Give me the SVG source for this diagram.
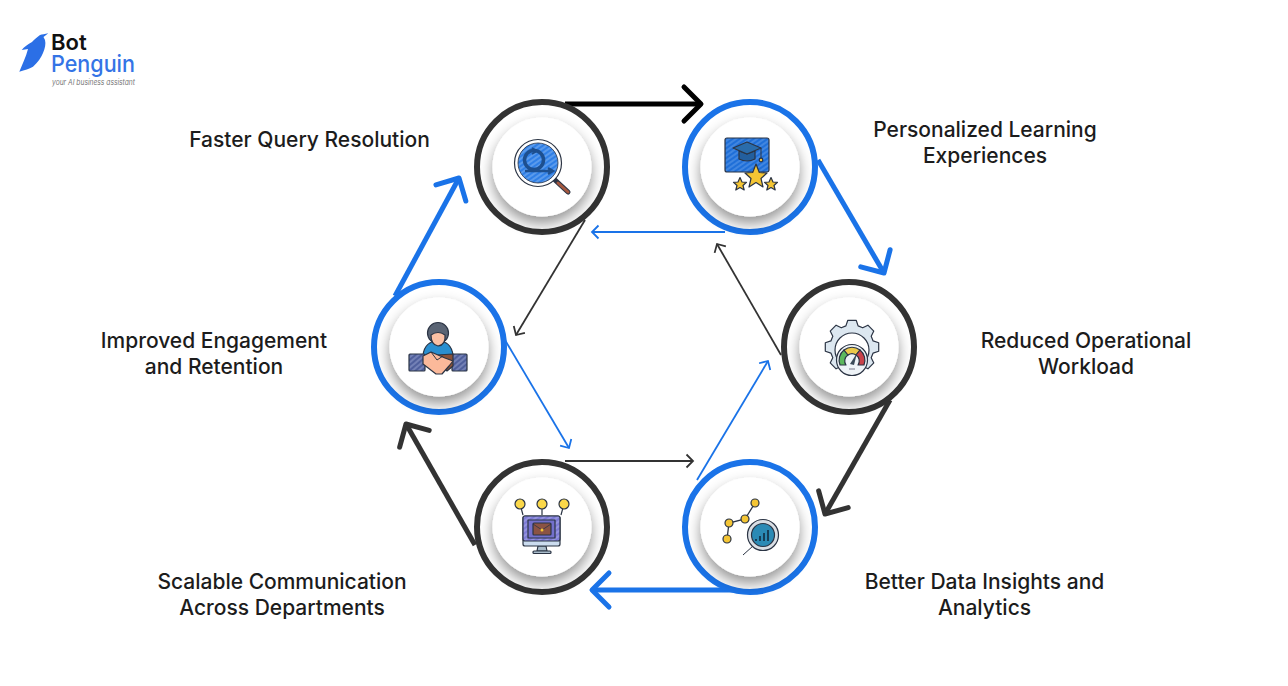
<svg xmlns="http://www.w3.org/2000/svg" width="1288" height="686" viewBox="0 0 1288 686">
<style>
text{font-family:"Inter","Liberation Sans",sans-serif}
.lbl{font-size:21px;font-weight:500;fill:#1c1c1c;text-anchor:middle}
.ring{fill:#fff;stroke-width:6}
.rb{stroke:#1a73e8}.rd{stroke:#333}
.disc{fill:#fff;filter:url(#sh)}
.thickB{fill:none;stroke:#1a73e8;stroke-width:5;marker-end:url(#hb)}
.thickD{fill:none;stroke:#333;stroke-width:5;marker-end:url(#hd)}
.thinB{fill:none;stroke:#1a73e8;stroke-width:1.8;marker-end:url(#tb)}
.thinD{fill:none;stroke:#333;stroke-width:1.8;marker-end:url(#td)}
.o{stroke:#2b3444;stroke-width:1.2;stroke-linejoin:round}
</style>
<defs>
<filter id="sh" x="-40%" y="-40%" width="180%" height="190%"><feDropShadow dx="0" dy="7" stdDeviation="7" flood-color="#000" flood-opacity=".42"/></filter>
<marker id="hb" markerUnits="userSpaceOnUse" markerWidth="40" markerHeight="44" refX="28" refY="22" orient="auto" viewBox="0 0 40 44"><path d="M11 5L28 22L11 39" fill="none" stroke="#1a73e8" stroke-width="5" stroke-linecap="round" stroke-linejoin="round"/></marker>
<marker id="hd" markerUnits="userSpaceOnUse" markerWidth="40" markerHeight="44" refX="28" refY="22" orient="auto" viewBox="0 0 40 44"><path d="M11 5L28 22L11 39" fill="none" stroke="#333" stroke-width="5" stroke-linecap="round" stroke-linejoin="round"/></marker>
<marker id="hk" markerUnits="userSpaceOnUse" markerWidth="40" markerHeight="44" refX="28" refY="22" orient="auto" viewBox="0 0 40 44"><path d="M11 5L28 22L11 39" fill="none" stroke="#000" stroke-width="5" stroke-linecap="round" stroke-linejoin="round"/></marker>
<marker id="tb" markerUnits="userSpaceOnUse" markerWidth="20" markerHeight="20" refX="14" refY="10" orient="auto" viewBox="0 0 20 20"><path d="M7.500 3.500L14 10L7.500 16.500" fill="none" stroke="#1a73e8" stroke-width="1.800"/></marker>
<marker id="td" markerUnits="userSpaceOnUse" markerWidth="20" markerHeight="20" refX="14" refY="10" orient="auto" viewBox="0 0 20 20"><path d="M7.500 3.500L14 10L7.500 16.500" fill="none" stroke="#333" stroke-width="1.800"/></marker>
<pattern id="hatch" width="4" height="4" patternUnits="userSpaceOnUse" patternTransform="rotate(-35)"><rect width="4" height="4" fill="#2f7fe6"/><path d="M0 1H4" stroke="#a9cdf7" stroke-width=".7"/></pattern>
<pattern id="hatch2" width="4" height="4" patternUnits="userSpaceOnUse" patternTransform="rotate(-35)"><rect width="4" height="4" fill="#1f6fd8"/><path d="M0 1H4" stroke="#8fbcf2" stroke-width=".6"/></pattern>
<pattern id="hatch3" width="4" height="4" patternUnits="userSpaceOnUse" patternTransform="rotate(-40)"><rect width="4" height="4" fill="#4f5f9c"/><path d="M0 1H4" stroke="#aab4dc" stroke-width=".8"/></pattern>
<pattern id="hatch4" width="4" height="4" patternUnits="userSpaceOnUse" patternTransform="rotate(-35)"><rect width="4" height="4" fill="#7d7bd6"/><path d="M0 1H4" stroke="#c2c1f0" stroke-width=".7"/></pattern>
</defs>
<rect width="1288" height="686" fill="#fff"/>

<g id="logo">
<path d="M48.300 33.300C45 34 42 34.500 40 35C37 37 34 40 32 42C28 44 24 47 21.700 50L28 49C26 57 22 65 19.300 71.700C25 70 29 69 33 66.700C38 62 41 58 43 53C45 48 46 44 45 40L43.500 37Z" fill="#2b6fe6"/>
<text x="51" y="49.500" font-size="22" font-weight="600" fill="#111">Bot</text>
<text x="51" y="71.700" font-size="23" font-weight="500" fill="#3474e6" textLength="84" lengthAdjust="spacingAndGlyphs">Penguin</text>
<text x="52" y="85" font-size="7.500" font-style="italic" fill="#777" textLength="83" lengthAdjust="spacingAndGlyphs">your AI business assistant</text>
</g>

<g id="connectors">
<path d="M565 104H701" fill="none" stroke="#000" stroke-width="5" marker-end="url(#hk)"/>
<path class="thickB" d="M818 160L884 273"/>
<path class="thickD" d="M890 400L825 514"/>
<path class="thickB" d="M735 590H592"/>
<path class="thickD" d="M475 545L406 424"/>
<path class="thickB" d="M395 296L459 178"/>
<path class="thinB" d="M725 232H592"/>
<path class="thinD" d="M585 220L516 335"/>
<path class="thinB" d="M505 340L569 448"/>
<path class="thinD" d="M565 461H693"/>
<path class="thinB" d="M697 480L768 361"/>
<path class="thinD" d="M781 355L717 244"/>
</g>

<g id="node-query" transform="translate(542 167)">
<circle class="ring rd" r="65"/><circle class="disc" r="49.500"/>
<path d="M13 13L26 25" stroke="#2b3444" stroke-width="5" stroke-linecap="round"/><path d="M16 16L26 25" stroke="#a5583f" stroke-width="3" stroke-linecap="round"/>
<circle cx="-4" cy="-4" r="23.500" fill="#fff" stroke="#2b3444" stroke-width="1.200"/>
<circle cx="-4" cy="-4" r="20" fill="url(#hatch)" stroke="#2b3444" stroke-width=".8"/>
<circle cx="-8" cy="-7" r="9.500" fill="none" stroke="#1d4f8f" stroke-width="3.500"/>
<path d="M-10 -19L-5 -16L-10 -13" fill="none" stroke="#1d4f8f" stroke-width="1.800"/>
<path d="M-17 4H10M6 1L11 4L6 7" fill="none" stroke="#1d4f8f" stroke-width="2.400"/>
</g>

<g id="node-learning" transform="translate(750 167)">
<circle class="ring rb" r="65"/><circle class="disc" r="49.500"/>
<rect x="-25" y="-29" width="44" height="34" rx="2" fill="url(#hatch2)" class="o"/>
<path d="M-11 -16V-8Q-3 -4 5 -8V-16L-3 -13Z" fill="#235f9e" class="o"/>
<path d="M-17 -19L-3 -25L11 -19L-3 -13Z" fill="#2a6cab" class="o"/>
<path d="M11 -19V-8" stroke="#2b3444" stroke-width="1"/><circle cx="11" cy="-7" r="1.800" fill="#f3c53c" class="o"/>
<path d="M6 -3L9.300 5.500L17 6L11 11.500L13 20L6 15.500L-1 20L1 11.500L-5 6L2.700 5.500Z" fill="#f4c534" class="o"/>
<path d="M-10 10.500L-8 15L-3.500 15.300L-7 18.500L-5.800 23L-10 20.500L-14.200 23L-13 18.500L-16.500 15.300L-12 15Z" fill="#f4c534" class="o"/>
<path d="M21 10.500L23 15L27.500 15.300L24 18.500L25.200 23L21 20.500L16.800 23L18 18.500L14.500 15.300L19 15Z" fill="#f4c534" class="o"/>
</g>

<g id="node-workload" transform="translate(849 347)">
<circle class="ring rd" r="65"/><circle class="disc" r="49.500"/>
<g transform="translate(3 0)">
<path d="M-6.100 -21.100L-4.200 -26.700L4.200 -26.700L6.100 -21.100L10.700 -19.200L15.900 -21.800L21.800 -15.900L19.200 -10.700L21.100 -6.100L26.700 -4.200L26.700 4.200L21.100 6.100L19.200 10.700L21.800 15.900L15.900 21.800L10.700 19.200L6.100 21.100L4.200 26.700L-4.200 26.700L-6.100 21.100L-10.700 19.200L-15.900 21.800L-21.800 15.900L-19.200 10.700L-21.100 6.100L-26.700 4.200L-26.700 -4.200L-21.100 -6.100L-19.200 -10.700L-21.800 -15.900L-15.900 -21.800L-10.700 -19.200Z" fill="#dce7f0" class="o"/>
<circle cy="3" r="17" fill="#fff" class="o"/>
<circle cy="13" r="15.500" fill="#eef3f7" class="o"/>
<path d="M-12 18A13 13 0 0 1 -8 3L-4 8A7 7 0 0 0 -6 18Z" fill="#5cb85c" class="o"/>
<path d="M-8 3A13 13 0 0 1 8 3L4 8A7 7 0 0 0 -4 8Z" fill="#ecc94b" class="o"/>
<path d="M8 3A13 13 0 0 1 12 18L6 18A7 7 0 0 0 4 8Z" fill="#c9424a" class="o"/>
<path d="M-2 17L5 6L2 18Z" fill="#3a4a58"/>
<path d="M-3 22H3" stroke="#778" stroke-width="1"/>
</g>
</g>

<g id="node-analytics" transform="translate(750 527)">
<circle class="ring rb" r="65"/><circle class="disc" r="49.500"/>
<path d="M5 -24L-5 -8L-21 -4L-23 12" fill="none" stroke="#2b3444" stroke-width="1.300"/>
<g fill="#f4c534" class="o"><circle cx="5" cy="-24" r="4"/><circle cx="-5" cy="-8" r="4"/><circle cx="-21" cy="-4" r="4"/><circle cx="-23" cy="12" r="4"/></g>
<path d="M3 19L-7 28" stroke="#2b3444" stroke-width="1"/>
<circle cx="13" cy="8" r="15.500" fill="#d9dee4" class="o"/>
<circle cx="13" cy="8" r="11.500" fill="#2b8ab5" class="o"/>
<path d="M6 14V12M10 14V9M14 14V6M18 14V3" stroke="#163e58" stroke-width="2"/>
</g>

<g id="node-communication" transform="translate(542 527)">
<circle class="ring rd" r="65"/><circle class="disc" r="49.500"/>
<path d="M-19 -12L-22 -23M0 -12V-23M19 -12L22 -23" stroke="#2b3444" stroke-width="1.200"/>
<g fill="#fbd84a" class="o"><circle cx="-22" cy="-23" r="5"/><circle cx="0" cy="-23" r="5"/><circle cx="22" cy="-23" r="5"/></g>
<path d="M-4 19L-5 24H5L4 19Z" fill="#a9bccb" class="o"/><rect x="-9" y="24" width="18" height="2.500" rx="1" fill="#a9bccb" class="o"/>
<rect x="-19" y="-11" width="37" height="30" rx="2" fill="#cbdcef" class="o"/>
<rect x="-19" y="-11" width="37" height="25" rx="2" fill="url(#hatch4)" class="o"/>
<rect x="-14" y="-7" width="27" height="18" fill="#7370cc" class="o"/>
<rect x="-9" y="-4" width="18" height="12" rx="1" fill="#8b5344" class="o"/>
<path d="M-9 -3L0 3L9 -3" fill="none" stroke="#2b3444" stroke-width=".8"/><circle cy="3" r="1.500" fill="#f4c534"/>
</g>

<g id="node-engagement" transform="translate(439 347)">
<circle class="ring rb" r="65"/><circle class="disc" r="49.500"/>
<path d="M-16 8Q-14 -6 -1 -6Q12 -6 14 8L10 19L-12 19Z" fill="#2a8fd0" class="o"/>
<circle cx="-1" cy="-14" r="10.500" fill="#5a6474" class="o"/>
<path d="M-8 -12Q-1 -17 6 -12Q7 -2 -1 -1Q-8 -2 -8 -12Z" fill="#fbc0a4" class="o"/>
<rect x="-30" y="7" width="16" height="17" rx="1" fill="url(#hatch3)" class="o"/>
<rect x="13" y="7" width="15" height="17" rx="1" fill="url(#hatch3)" class="o"/>
<path d="M-2 8L14 7L14 19L8 24L-2 15Z" fill="#8a5238" class="o"/>
<path d="M-16 9L-8 5L6 11L14 14L10 19L3 27L-3 27L-16 17Z" fill="#fbb99a" class="o"/>
<path d="M-8 5L-2 13L4 9" fill="none" stroke="#2b3444" stroke-width="1"/>
</g>

<g id="labels">
<text class="lbl" x="309.500" y="147">Faster Query Resolution</text>
<text class="lbl" x="985" y="137">Personalized Learning</text><text class="lbl" x="985" y="163">Experiences</text>
<text class="lbl" x="1086" y="348">Reduced Operational</text><text class="lbl" x="1086" y="374">Workload</text>
<text class="lbl" x="984.500" y="589">Better Data Insights and</text><text class="lbl" x="984.500" y="615">Analytics</text>
<text class="lbl" x="282" y="589">Scalable Communication</text><text class="lbl" x="282" y="615">Across Departments</text>
<text class="lbl" x="214" y="348">Improved Engagement</text><text class="lbl" x="214" y="374">and Retention</text>
</g>
</svg>
